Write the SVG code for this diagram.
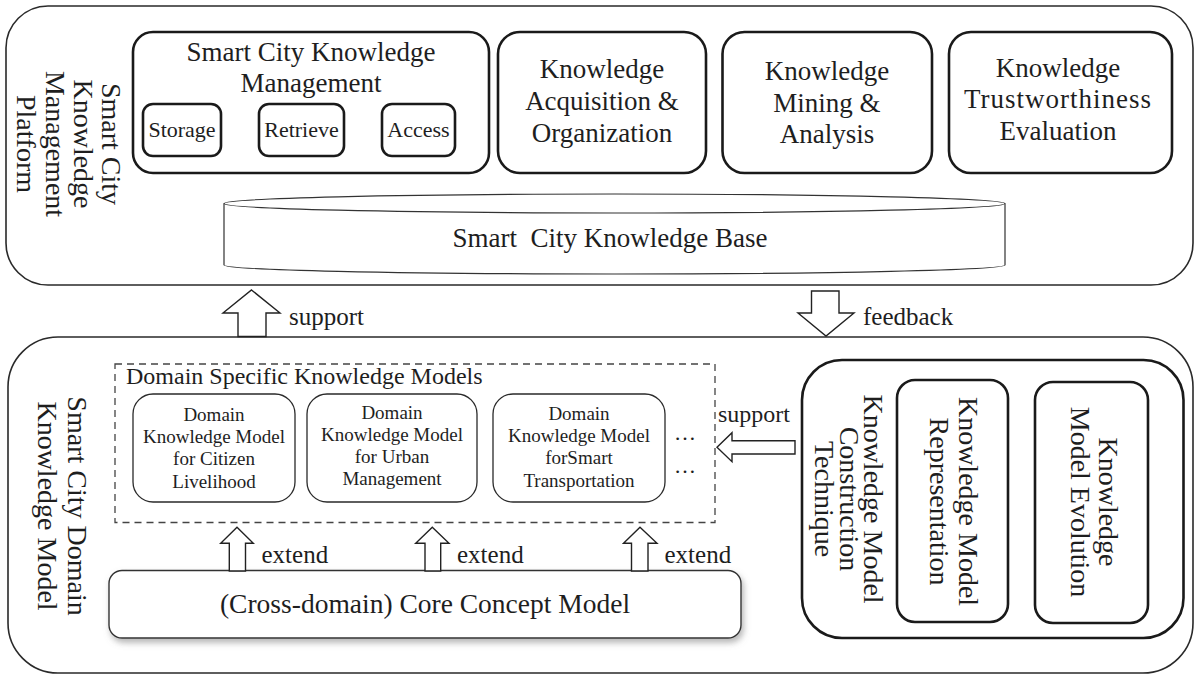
<svg xmlns="http://www.w3.org/2000/svg" width="1195" height="675" viewBox="0 0 1195 675">
  <style>
    text { font-family: "Liberation Serif", "Times New Roman", serif; fill: #1e1e1e; }
    .frame { fill: #fff; stroke: #2a2a2a; stroke-width: 1.6; }
    .mod { fill: #fff; stroke: #1a1a1a; stroke-width: 2.6; }
    .dom { fill: #fff; stroke: #2a2a2a; stroke-width: 1.3; }
    .dash { fill: none; stroke: #444; stroke-width: 1.3; stroke-dasharray: 7 5; }
    .arrow { fill: #fff; stroke: #222; stroke-width: 1.4; stroke-linejoin: miter; }
    .c { text-anchor: middle; }
    .t27 { font-size: 27px; }
    .t22 { font-size: 22px; }
    .t19 { font-size: 19px; }
    .lbl { font-size: 25px; }
    .vt { font-size: 28px; text-anchor: middle; }
  </style>
  <defs>
    <filter id="shadow" x="-5%" y="-20%" width="112%" height="150%">
      <feDropShadow dx="2" dy="4" stdDeviation="3" flood-color="#7a7a7a" flood-opacity="0.55"/>
    </filter>
  </defs>

  <!-- platform layer -->
  <g id="platform">
    <rect class="frame" x="6" y="6" width="1187" height="279" rx="42"/>
    <text class="vt" font-size="27" transform="translate(102,144) rotate(90)">Smart City</text>
    <text class="vt" font-size="27" transform="translate(74,144) rotate(90)">Knowledge</text>
    <text class="vt" font-size="27" transform="translate(45.5,144) rotate(90)">Management</text>
    <text class="vt" font-size="27" transform="translate(17,144) rotate(90)">Platform</text>
  </g>

  <g id="knowledge-management">
    <rect class="mod" x="133" y="32" width="356" height="141" rx="20"/>
    <text class="c t27" x="311" y="61">Smart City Knowledge</text>
    <text class="c t27" x="311" y="92">Management</text>
  </g>
  <g id="storage">
    <rect class="mod" x="143" y="104" width="78" height="52" rx="10"/>
    <text class="c t22" x="182" y="137">Storage</text>
  </g>
  <g id="retrieve">
    <rect class="mod" x="259" y="104" width="85" height="52" rx="10"/>
    <text class="c t22" x="301.5" y="137">Retrieve</text>
  </g>
  <g id="access">
    <rect class="mod" x="382" y="104" width="73" height="52" rx="10"/>
    <text class="c t22" x="418.5" y="137">Access</text>
  </g>

  <g id="acquisition">
    <rect class="mod" x="498" y="32" width="208" height="141" rx="22"/>
    <text class="c t27" x="602" y="78">Knowledge</text>
    <text class="c t27" x="602" y="110">Acquisition &amp;</text>
    <text class="c t27" x="602" y="141.5">Organization</text>
  </g>
  <g id="mining">
    <rect class="mod" x="722.5" y="32" width="209.5" height="141" rx="22"/>
    <text class="c t27" x="827" y="80">Knowledge</text>
    <text class="c t27" x="827" y="111.5">Mining &amp;</text>
    <text class="c t27" x="827" y="143">Analysis</text>
  </g>
  <g id="trustworthiness">
    <rect class="mod" x="949" y="32" width="223" height="141" rx="22"/>
    <text class="c t27" x="1058" y="76.5">Knowledge</text>
    <text class="c t27" x="1058" y="108" letter-spacing="1">Trustworthiness</text>
    <text class="c t27" x="1058" y="140">Evaluation</text>
  </g>

  <g id="knowledge-base">
    <path d="M224,203.5 L224,265 A390.5,9 0 0 0 1005,265 L1005,203.5" fill="#fff" stroke="#333" stroke-width="1.2"/>
    <ellipse cx="614.5" cy="203.5" rx="390.5" ry="9.5" fill="#fff" stroke="#333" stroke-width="1.2"/>
    <text class="c t27" x="610" y="247" style="white-space:pre">Smart  City Knowledge Base</text>
  </g>

  <!-- domain model layer -->
  <g id="domain-model">
    <rect class="frame" x="8" y="337" width="1185" height="336" rx="50"/>
    <text class="vt" font-size="29" transform="translate(68,506) rotate(90)">Smart City Domain</text>
    <text class="vt" font-size="29" transform="translate(38,506) rotate(90)">Knowledge Model</text>
  </g>

  <g id="domain-specific">
    <rect class="dash" x="115" y="364" width="600" height="158.5"/>
    <text x="126" y="384" font-size="24">Domain Specific Knowledge Models</text>
    <text x="674" y="440" font-size="22">…</text>
    <text x="674" y="473" font-size="22">…</text>
  </g>
  <g id="citizen-livelihood">
    <rect class="dom" x="133" y="394" width="162" height="108" rx="20"/>
    <text class="c t19" x="214" y="420.5">Domain</text>
    <text class="c t19" x="214" y="442.5">Knowledge Model</text>
    <text class="c t19" x="214" y="465">for Citizen</text>
    <text class="c t19" x="214" y="487.5">Livelihood</text>
  </g>
  <g id="urban-management">
    <rect class="dom" x="307" y="394" width="170" height="108" rx="20"/>
    <text class="c t19" x="392" y="418.5">Domain</text>
    <text class="c t19" x="392" y="440.5">Knowledge Model</text>
    <text class="c t19" x="392" y="463">for Urban</text>
    <text class="c t19" x="392" y="485">Management</text>
  </g>
  <g id="smart-transportation">
    <rect class="dom" x="493" y="394" width="172" height="108" rx="20"/>
    <text class="c t19" x="579" y="419.5">Domain</text>
    <text class="c t19" x="579" y="441.5">Knowledge Model</text>
    <text class="c t19" x="579" y="464">forSmart</text>
    <text class="c t19" x="579" y="486.5">Transportation</text>
  </g>

  <g id="core-concept">
    <rect x="109" y="570.5" width="632" height="67.5" rx="13" fill="#fff" stroke="#333" stroke-width="1.4" filter="url(#shadow)"/>
    <text class="c" x="425" y="613" font-size="27.5">(Cross-domain) Core Concept Model</text>
  </g>

  <g id="construction-technique">
    <rect class="mod" x="802" y="360" width="381.5" height="278" rx="40"/>
    <text class="vt" font-size="27" transform="translate(864,499) rotate(90)">Knowledge Model</text>
    <text class="vt" font-size="27" transform="translate(840,499) rotate(90)">Construction</text>
    <text class="vt" font-size="27" transform="translate(815,499) rotate(90)">Technique</text>
  </g>
  <g id="representation">
    <rect class="mod" x="897" y="380" width="111" height="242" rx="18"/>
    <text class="vt" transform="translate(959,501.5) rotate(90)">Knowledge Model</text>
    <text class="vt" transform="translate(930,501.5) rotate(90)">Representation</text>
  </g>
  <g id="evolution">
    <rect class="mod" x="1035" y="382" width="113" height="241" rx="18"/>
    <text class="vt" transform="translate(1099,502) rotate(90)">Knowledge</text>
    <text class="vt" transform="translate(1071,502) rotate(90)">Model Evolution</text>
  </g>

  <!-- block arrows and their labels -->
  <g id="connectors">
    <polygon class="arrow" points="251.5,290 280,313 266,313 266,336.5 238,336.5 238,313 223,313"/>
    <text class="lbl" x="289" y="325">support</text>

    <polygon class="arrow" points="811.5,291 839,291 839,313 854,313 826,336 798,313 811.5,313"/>
    <text class="lbl" x="863" y="325">feedback</text>

    <polygon class="arrow" points="795,440.7 795,454 732,454 732,461.7 717,447.3 732,432.7 732,440.7"/>
    <text x="718" y="421.5" font-size="24">support</text>

    <polygon class="arrow" points="237,527.3 253.3,543.3 245.5,543.3 245.5,571 229.3,571 229.3,543.3 220.7,543.3"/>
    <text class="lbl" x="261.5" y="563">extend</text>

    <polygon class="arrow" points="432.3,527.3 449,543.3 440.7,543.3 440.7,571 425,571 425,543.3 415.7,543.3"/>
    <text class="lbl" x="457" y="563">extend</text>

    <polygon class="arrow" points="640,527.3 657,543.3 648,543.3 648,571 631.5,571 631.5,543.3 623.5,543.3"/>
    <text class="lbl" x="664.5" y="563">extend</text>
  </g>
</svg>
